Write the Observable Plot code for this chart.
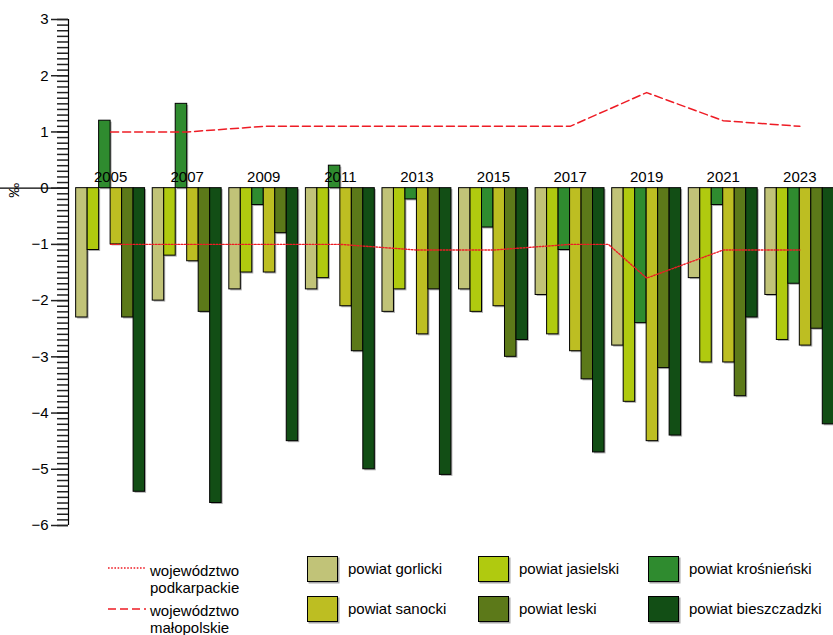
<!DOCTYPE html>
<html>
<head>
<meta charset="utf-8">
<script src="https://cdn.jsdelivr.net/npm/d3@7"></script>
<script src="https://cdn.jsdelivr.net/npm/@observablehq/plot@0.6"></script>
<style>
  body { margin: 0; background: #fff; font-family: "Liberation Sans", Arial, sans-serif; }
  #wrap { position: relative; width: 833px; height: 635px; overflow: hidden; }
  #chart { position: absolute; left: 0; top: 0; }
  .lg { position: absolute; font-size: 15px; color: #000; line-height: 17px; white-space: nowrap; }
  .sw { position: absolute; width: 29px; height: 24px; border: 1px solid #000; box-shadow: 1.5px 1.5px 0 rgba(0,0,0,0.35); }
  .ls { position: absolute; }
</style>
</head>
<body>
<div id="wrap">
  <div id="chart"></div>
  <div id="legend"></div>
</div>
<script>
const years = [2005, 2007, 2009, 2011, 2013, 2015, 2017, 2019, 2021, 2023];
const seriesNames = ["powiat gorlicki", "powiat jasielski", "powiat krośnieński", "powiat sanocki", "powiat leski", "powiat bieszczadzki"];
const seriesColors = ["#c1c378", "#b0ca0f", "#2f8b2f", "#bdbe22", "#5c7919", "#124e15"];
const gorlicki     = [-2.3, -2.0, -1.8, -1.8, -2.2, -1.8, -1.9, -2.8, -1.6, -1.9];
const jasielski    = [-1.1, -1.2, -1.5, -1.6, -1.8, -2.2, -2.6, -3.8, -3.1, -2.7];
const krosnienski  = [1.2, 1.5, -0.3, 0.4, -0.2, -0.7, -1.1, -2.4, -0.3, -1.7];
const sanocki      = [-1.0, -1.3, -1.5, -2.1, -2.6, -2.1, -2.9, -4.5, -3.1, -2.8];
const leski        = [-2.3, -2.2, -0.8, -2.9, -1.8, -3.0, -3.4, -3.2, -3.7, -2.5];
const bieszczadzki = [-5.4, -5.6, -4.5, -5.0, -5.1, -2.7, -4.7, -4.4, -2.3, -4.2];
const seriesValues = [gorlicki, jasielski, krosnienski, sanocki, leski, bieszczadzki];

const podkarpackieYears = [2005, 2007, 2009, 2011, 2013, 2015, 2017, 2018, 2019, 2021, 2023];
const podkarpackie      = [-1.0, -1.0, -1.0, -1.0, -1.1, -1.1, -1.0, -1.0, -1.6, -1.1, -1.1];
const malopolskieYears  = [2005, 2007, 2009, 2011, 2013, 2015, 2017, 2019, 2021, 2023];
const malopolskie       = [1.0, 1.0, 1.1, 1.1, 1.1, 1.1, 1.1, 1.7, 1.2, 1.1];

const yMajor = [-6, -5, -4, -3, -2, -1, 0, 1, 2, 3];
const yUnit = "‰";

// layout of grouped bars within a year slot (2-year step)
const groupHalf = 0.9, barW = 0.3;
const bars = [];
seriesNames.forEach((s, i) => years.forEach((yr, j) => bars.push({year: yr, series: s, i, value: seriesValues[i][j]})));
const podk = podkarpackieYears.map((yr, j) => ({year: yr, value: podkarpackie[j]}));
const malo = malopolskieYears.map((yr, j) => ({year: yr, value: malopolskie[j]}));
const xMin = years[0] - groupHalf - 0.2;
const x1 = d => d.year - groupHalf + barW * d.i;
const x2 = d => d.year - groupHalf + barW * (d.i + 1);
const minorTicks = d3.range(-60, 31).map(k => k / 10);
const red = "#ee1c25";
const fmt = d => d < 0 ? "\u2212" + (-d) : String(d);

const chart = Plot.plot({
  width: 833, height: 545,
  marginLeft: 68, marginRight: 0, marginTop: 19, marginBottom: 20,
  x: {type: "linear", domain: [xMin, years[years.length - 1] + groupHalf - 0.02], axis: null},
  y: {domain: [-6, 3], axis: null},
  color: {domain: seriesNames, range: seriesColors},
  style: {fontFamily: "'Liberation Sans', Arial, sans-serif", fontSize: "15px", color: "#000", background: "#fff", overflow: "visible"},
  marks: [
    Plot.rect(bars, {x1, x2, y1: 0, y2: "value", fill: "#777", fillOpacity: 0.6, dx: 1.5, dy: 1.5}),
    Plot.rect(bars, {x1, x2, y1: 0, y2: "value", fill: "series", stroke: "#000", strokeWidth: 1}),
    Plot.line(podk, {x: "year", y: "value", stroke: red, strokeWidth: 1.4, strokeDasharray: "1.6,1.6"}),
    Plot.line(malo, {x: "year", y: "value", stroke: red, strokeWidth: 1.5, strokeDasharray: "8,4"}),
    Plot.ruleY([0], {x1: xMin, stroke: "#000", strokeWidth: 1.3}),
    Plot.ruleX([xMin], {y1: -6, y2: 3, stroke: "#000", strokeWidth: 1.2}),
    Plot.axisY({ticks: minorTicks, tickSize: 11, tickFormat: () => "", label: null, stroke: "#222", strokeWidth: 1.5}),
    Plot.axisY({ticks: yMajor, tickSize: 17, tickPadding: 3, tickFormat: fmt, label: null, fontSize: 15, stroke: "#222", strokeWidth: 1.5}),
    Plot.text(years, {x: d => d, y: 0, dy: -11, text: d => String(d), fontSize: 15, fill: "#000"}),
    Plot.text([yUnit], {x: xMin, y: 0, dx: -54, dy: 2, rotate: -90, text: d => d, fontSize: 15, fill: "#000"})
  ]
});
document.getElementById("chart").appendChild(chart);

// legend (HTML below the SVG)
const legend = document.getElementById("legend");
const lineItems = [
  {label: "województwo<br>podkarpackie", dash: "1.6,1.6", y: 568, ty: 562},
  {label: "województwo<br>małopolskie", dash: "8,4", y: 609, ty: 602}
];
lineItems.forEach(it => {
  const s = document.createElementNS("http://www.w3.org/2000/svg", "svg");
  s.setAttribute("width", 40); s.setAttribute("height", 6);
  s.setAttribute("class", "ls");
  s.style.left = "107px"; s.style.top = (it.y - 3) + "px";
  s.innerHTML = `<line x1="1" y1="3" x2="39" y2="3" stroke="${red}" stroke-width="1.4" stroke-dasharray="${it.dash}"/>`;
  legend.appendChild(s);
  const t = document.createElement("div");
  t.className = "lg"; t.innerHTML = it.label;
  t.style.left = "150px"; t.style.top = it.ty + "px";
  legend.appendChild(t);
});
const colX = [307, 478, 648];
const rowY = [556, 596];
seriesNames.forEach((name, i) => {
  const cx = colX[i % 3], ry = rowY[Math.floor(i / 3)];
  const sw = document.createElement("div");
  sw.className = "sw"; sw.style.left = cx + "px"; sw.style.top = ry + "px";
  sw.style.background = seriesColors[i];
  legend.appendChild(sw);
  const t = document.createElement("div");
  t.className = "lg"; t.textContent = name;
  t.style.left = (cx + 41) + "px"; t.style.top = (ry + 4) + "px";
  legend.appendChild(t);
});
</script>
</body>
</html>
